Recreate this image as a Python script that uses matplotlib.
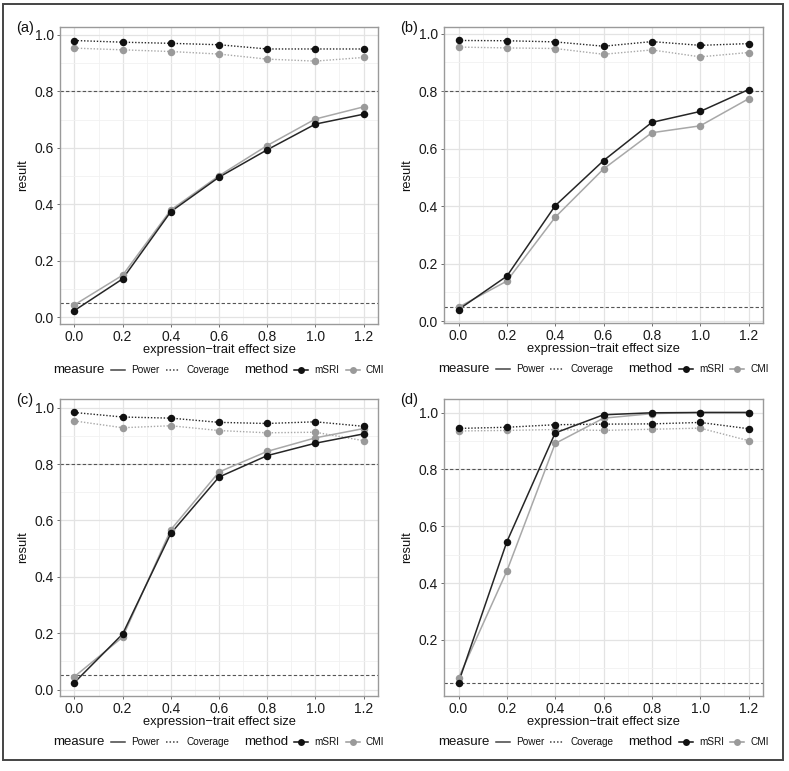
import matplotlib
matplotlib.use("Agg")
import matplotlib.pyplot as plt
from matplotlib.lines import Line2D
from matplotlib.patches import Rectangle
from matplotlib.offsetbox import HPacker, TextArea, DrawingArea, AnchoredOffsetbox
import numpy as np

plt.rcParams['font.family'] = ['Liberation Sans', 'DejaVu Sans']

effect_size = [0.0, 0.2, 0.4, 0.6, 0.8, 1.0, 1.2]
x_ticks = [0.0, 0.2, 0.4, 0.6, 0.8, 1.0, 1.2]
y_ticks = [0.0, 0.2, 0.4, 0.6, 0.8, 1.0]
ref_lines = [0.05, 0.8]
panel_labels = ["(a)", "(b)", "(c)", "(d)"]

# panel (a)
a_msri_power = [0.024, 0.136, 0.374, 0.496, 0.593, 0.684, 0.719]
a_cmi_power = [0.044, 0.149, 0.380, 0.501, 0.608, 0.702, 0.745]
a_msri_cov = [0.980, 0.974, 0.970, 0.965, 0.950, 0.950, 0.950]
a_cmi_cov = [0.953, 0.947, 0.941, 0.932, 0.914, 0.907, 0.920]
# panel (b)
b_msri_power = [0.040, 0.156, 0.401, 0.558, 0.691, 0.729, 0.805]
b_cmi_power = [0.048, 0.139, 0.361, 0.529, 0.655, 0.679, 0.773]
b_msri_cov = [0.976, 0.975, 0.971, 0.956, 0.972, 0.959, 0.965]
b_cmi_cov = [0.953, 0.950, 0.948, 0.928, 0.943, 0.919, 0.934]
# panel (c)
c_msri_power = [0.025, 0.197, 0.554, 0.754, 0.830, 0.874, 0.907]
c_cmi_power = [0.046, 0.186, 0.567, 0.772, 0.845, 0.893, 0.926]
c_msri_cov = [0.983, 0.967, 0.963, 0.948, 0.944, 0.950, 0.934]
c_cmi_cov = [0.953, 0.929, 0.936, 0.919, 0.911, 0.913, 0.883]
# panel (d)
d_msri_power = [0.050, 0.545, 0.928, 0.992, 0.999, 1.000, 1.000]
d_cmi_power = [0.065, 0.442, 0.891, 0.980, 0.996, 1.000, 1.000]
d_msri_cov = [0.944, 0.948, 0.957, 0.959, 0.960, 0.965, 0.943]
d_cmi_cov = [0.935, 0.937, 0.940, 0.937, 0.941, 0.945, 0.901]

panels = [
    (a_msri_power, a_cmi_power, a_msri_cov, a_cmi_cov),
    (b_msri_power, b_cmi_power, b_msri_cov, b_cmi_cov),
    (c_msri_power, c_cmi_power, c_msri_cov, c_cmi_cov),
    (d_msri_power, d_cmi_power, d_msri_cov, d_cmi_cov),
]

W, H = 789, 771
fig = plt.figure(figsize=(W / 100, H / 100), dpi=100)

boxes = [
    (60, 27, 378, 324),
    (444, 27, 763, 323),
    (60, 399, 378, 696),
    (444, 399, 763, 696),
]

msri_col = "#111111"
cmi_col = "#9a9a9a"
msri_line = "#262626"
cmi_line = "#a8a8a8"
dotted = (0, (1.0, 1.3))


def key(color, ls, marker=False):
    da = DrawingArea(11, 8, 0, 0)
    da.add_artist(Line2D([0.5, 10.5], [4, 4], color=color, linestyle=ls, linewidth=1.1))
    if marker:
        da.add_artist(Line2D([5.5], [4], color=color, marker='o', markersize=5,
                             markeredgewidth=0, linestyle='none'))
    return da


def txt(s, size):
    return TextArea(s, textprops=dict(fontsize=size, color="#111111"))


for i, ((l, t, r, b), data) in enumerate(zip(boxes, panels)):
    ax = fig.add_axes([l / W, 1 - b / H, (r - l) / W, (b - t) / H])
    mp, cp, mc, cc = data
    allv = list(mp) + list(cp) + list(mc) + list(cc) + ref_lines
    lo, hi = min(allv), max(allv)
    pad = 0.05 * (hi - lo)
    ax.set_ylim(lo - pad, hi + pad)
    xr = max(effect_size) - min(effect_size)
    ax.set_xlim(min(effect_size) - 0.05 * xr, max(effect_size) + 0.05 * xr)

    ax.set_xticks(x_ticks)
    ax.set_xticklabels([f"{v:.1f}" for v in x_ticks])
    yt = [v for v in y_ticks if lo - pad <= v <= hi + pad]
    ax.set_yticks(yt)
    ax.set_yticklabels([f"{v:.1f}" for v in yt])
    ax.set_xticks([0.1, 0.3, 0.5, 0.7, 0.9, 1.1], minor=True)
    ax.set_yticks([0.1, 0.3, 0.5, 0.7, 0.9], minor=True)
    ax.tick_params(which='minor', length=0)
    ax.tick_params(which='major', length=2.5, width=0.6, color="#555555",
                   labelsize=10, labelcolor="#1a1a1a", pad=2)
    ax.grid(which='major', color="#e3e3e3", linewidth=0.9)
    ax.grid(which='minor', color="#f1f1f1", linewidth=0.6)
    ax.set_axisbelow(True)
    for s in ax.spines.values():
        s.set_color("#9a9a9a")
        s.set_linewidth(1.0)

    for yv in ref_lines:
        ax.axhline(yv, color="#555555", linestyle=(0, (3, 2)), linewidth=0.8, zorder=1)

    ax.plot(effect_size, cc, color=cmi_line, linestyle=dotted, linewidth=1.0, zorder=2)
    ax.plot(effect_size, mc, color=msri_line, linestyle=dotted, linewidth=1.0, zorder=2)
    ax.plot(effect_size, cp, color=cmi_line, linestyle='-', linewidth=1.1, zorder=2)
    ax.plot(effect_size, mp, color=msri_line, linestyle='-', linewidth=1.1, zorder=2)
    for series, col in ((cc, cmi_col), (cp, cmi_col), (mc, msri_col), (mp, msri_col)):
        ax.plot(effect_size, series, linestyle='none', marker='o', markersize=5.4,
                color=col, markeredgewidth=0, zorder=3)

    ax.set_xlabel("expression\u2212trait effect size", fontsize=9.3, color="#111111", labelpad=0)
    ax.set_ylabel("result", fontsize=9.3, color="#111111", labelpad=4)

    fig.text((l - 44) / W, 1 - (t + 1) / H, panel_labels[i], fontsize=10.5,
             ha='left', va='center', color="#111111")

    children = [
        txt("measure", 9.5), key("#444444", '-'), txt("Power", 7.2),
        key("#444444", dotted), txt("Coverage", 7.2),
        TextArea(" "),
        txt("method", 9.5), key(msri_col, '-', True), txt("mSRI", 7.2),
        key(cmi_col, '-', True), txt("CMI", 7.2),
    ]
    box = HPacker(children=children, align="center", pad=0, sep=4)
    anc = AnchoredOffsetbox(loc='center', child=box, pad=0, frameon=False,
                            bbox_to_anchor=(0.5, -0.155), bbox_transform=ax.transAxes,
                            borderpad=0)
    ax.add_artist(anc)

fig.add_artist(Rectangle((3 / W, 1 - 760 / H), 780 / W, 756 / H, transform=fig.transFigure,
                         fill=False, edgecolor="#444444", linewidth=1.4))

fig.savefig("out.png", dpi=100)
